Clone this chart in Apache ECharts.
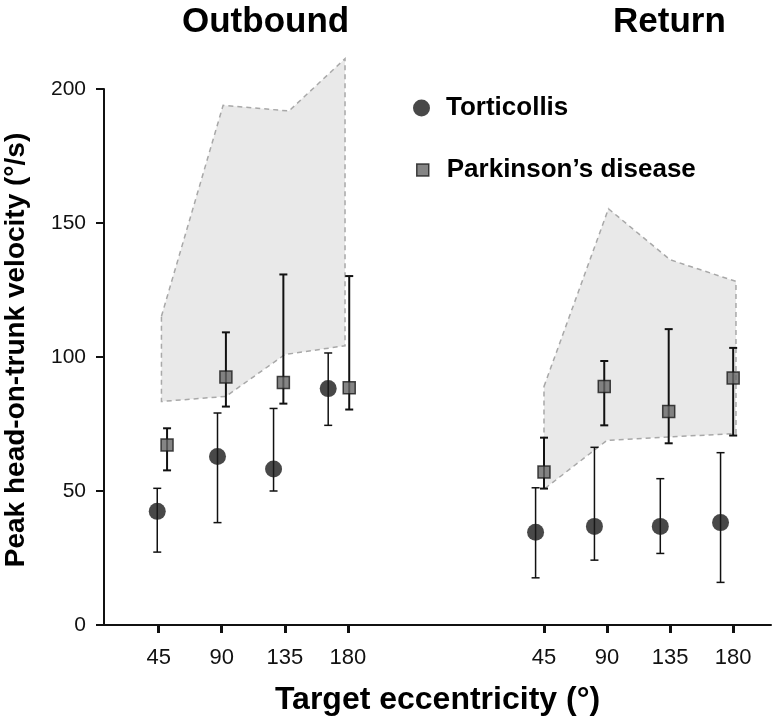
<!DOCTYPE html>
<html><head><meta charset="utf-8">
<script src="https://cdn.jsdelivr.net/npm/echarts@6/dist/echarts.min.js"></script>
<style>html,body{margin:0;padding:0;background:#fff}#c{width:774px;height:717px}</style>
</head><body><div id="c"></div>
<script>
// ---- data ----
const eccentricities = [45, 90, 135, 180];
const RETURN_OFFSET = 275;            // axis units separating the Return panel
const yTicks = [0, 50, 100, 150, 200];

// Torticollis (mean, lower / upper error bar)
const tortiOutX    = [44, 87, 127, 166];
const tortiOutMean = [42.4, 62.9, 58.2, 88.2];
const tortiOutLow  = [27.2, 38.2, 50.0, 74.5];
const tortiOutHigh = [51.0, 79.1, 80.8, 101.5];
const tortiRetX    = [39, 81, 128, 171];
const tortiRetMean = [34.6, 36.8, 36.8, 38.2];
const tortiRetLow  = [17.6, 24.2, 26.7, 15.9];
const tortiRetHigh = [51.2, 66.3, 54.6, 64.3];

// Parkinson's disease
const parkOutX    = [51, 93, 134, 181];
const parkOutMean = [67.2, 92.5, 90.5, 88.5];
const parkOutLow  = [57.7, 81.5, 82.6, 80.4];
const parkOutHigh = [73.4, 109.2, 130.8, 130.2];
const parkRetX    = [45, 88, 134, 180];
const parkRetMean = [57.1, 89.0, 79.7, 92.2];
const parkRetLow  = [50.9, 74.5, 67.8, 70.7];
const parkRetHigh = [69.9, 98.5, 110.4, 103.4];

// shaded normal range
const bandOutUpperX = [47, 91, 138, 178];
const bandOutUpper  = [115.2, 193.9, 191.8, 211.3];
const bandOutLowerX = [47, 93, 135, 178];
const bandOutLower  = [83.4, 85.3, 100.9, 104.2];
const bandRetUpperX = [45, 91, 135, 182];
const bandRetUpper  = [89.0, 155.3, 136.3, 128.2];
const bandRetLowerX = [45, 90, 135, 182];
const bandRetLower  = [50.7, 68.9, 70.2, 71.4];

const TORTI = 'Torticollis';
const PARK = 'Parkinson\u2019s disease';
const FONT = 'Liberation Sans, Arial, Helvetica, sans-serif';

// ---- build ----
function pts(xs, ys, off) { return xs.map((x, i) => [x + off, ys[i]]); }
function bars(xs, lo, hi, off) { return xs.map((x, i) => [x + off, lo[i], hi[i]]); }

const bands = [
  { ux: bandOutUpperX, u: bandOutUpper, lx: bandOutLowerX, l: bandOutLower, off: 0 },
  { ux: bandRetUpperX, u: bandRetUpper, lx: bandRetLowerX, l: bandRetLower, off: RETURN_OFFSET }
];

function errSeries(name, data, lw, cap) {
  return {
    name: name, type: 'custom', z: 3, silent: true,
    renderItem: function (params, api) {
      const x = api.value(0);
      const p1 = api.coord([x, api.value(1)]);
      const p2 = api.coord([x, api.value(2)]);
      const st = { stroke: '#111', lineWidth: lw };
      return { type: 'group', children: [
        { type: 'line', shape: { x1: p1[0], y1: p1[1], x2: p2[0], y2: p2[1] }, style: st },
        { type: 'line', shape: { x1: p1[0] - cap, y1: p1[1], x2: p1[0] + cap, y2: p1[1] }, style: st },
        { type: 'line', shape: { x1: p2[0] - cap, y1: p2[1], x2: p2[0] + cap, y2: p2[1] }, style: st }
      ]};
    },
    encode: { x: 0, y: [1, 2] },
    data: data
  };
}

const tortiStyle = { color: '#1a1a1a' };
const parkStyle = { color: '#666666', borderColor: '#1a1a1a', borderWidth: 1.5 };

const option = {
  animation: false,
  backgroundColor: '#fff',
  title: [
    { text: 'Outbound', left: 177, top: 0, textStyle: { fontFamily: FONT, fontWeight: 'bold', fontSize: 35, color: '#000' } },
    { text: 'Return', left: 608, top: 0, textStyle: { fontFamily: FONT, fontWeight: 'bold', fontSize: 35, color: '#000' } }
  ],
  legend: [
    { data: [{ name: TORTI, icon: 'circle', itemStyle: tortiStyle }], left: 408, top: 90, itemWidth: 17, itemHeight: 17, orient: 'vertical',
      textStyle: { fontFamily: FONT, fontWeight: 'bold', fontSize: 26, color: '#000', padding: [0, 0, 0, 11] } },
    { data: [{ name: PARK, icon: 'rect', itemStyle: parkStyle }], left: 411, top: 152, itemWidth: 12, itemHeight: 12, orient: 'vertical',
      textStyle: { fontFamily: FONT, fontWeight: 'bold', fontSize: 26, color: '#000', padding: [0, 0, 0, 13] } }
  ],
  grid: { left: 104, right: 3, top: 89, bottom: 92, containLabel: false, outerBoundsMode: 'none' },
  xAxis: {
    type: 'value', min: 6, max: 482,
    name: 'Target eccentricity (\u00b0)', nameLocation: 'middle', nameGap: 59,
    nameTextStyle: { fontFamily: FONT, fontWeight: 'bold', fontSize: 32, color: '#000' },
    axisLine: { show: true, lineStyle: { color: '#111', width: 2 } },
    axisTick: { show: true, length: 8, lineStyle: { color: '#111', width: 3 },
      customValues: eccentricities.concat(eccentricities.map(e => e + RETURN_OFFSET)) },
    axisLabel: { fontFamily: FONT, fontSize: 22, color: '#111', margin: 22,
      customValues: eccentricities.concat(eccentricities.map(e => e + RETURN_OFFSET)),
      formatter: v => String(v > RETURN_OFFSET ? v - RETURN_OFFSET : v) },
    splitLine: { show: false }
  },
  yAxis: {
    type: 'value', min: 0, max: 200, interval: 50,
    name: 'Peak head-on-trunk velocity (\u00b0/s)', nameLocation: 'middle', nameGap: 74, nameRotate: 90,
    nameTextStyle: { fontFamily: FONT, fontWeight: 'bold', fontSize: 28, color: '#000', padding: [0, 0, 0, 14] },
    axisLine: { show: true, lineStyle: { color: '#111', width: 2 } },
    axisTick: { show: true, length: 8, lineStyle: { color: '#111', width: 2 } },
    axisLabel: { fontFamily: FONT, fontSize: 21, color: '#111', margin: 18,
      customValues: yTicks },
    splitLine: { show: false }
  },
  series: [
    { name: TORTI, type: 'scatter', z: 4, symbol: 'circle', symbolSize: 17, itemStyle: tortiStyle,
      data: pts(tortiOutX, tortiOutMean, 0) },
    { name: TORTI, type: 'scatter', z: 4, symbol: 'circle', symbolSize: 17, itemStyle: tortiStyle,
      data: pts(tortiRetX, tortiRetMean, RETURN_OFFSET) },
    { name: PARK, type: 'scatter', z: 4, symbol: 'rect', symbolSize: 12, itemStyle: parkStyle,
      data: pts(parkOutX, parkOutMean, 0) },
    { name: PARK, type: 'scatter', z: 4, symbol: 'rect', symbolSize: 12, itemStyle: parkStyle,
      data: pts(parkRetX, parkRetMean, RETURN_OFFSET) },
    {
      type: 'custom', name: 'band', z: 1, silent: true,
      renderItem: function (params, api) {
        const b = bands[params.dataIndex];
        const up = b.ux.map((x, i) => api.coord([x + b.off, b.u[i]]));
        const lo = b.lx.map((x, i) => api.coord([x + b.off, b.l[i]])).reverse();
        return { type: 'polygon', shape: { points: up.concat(lo) },
          style: { fill: '#e9e9e9', stroke: '#a8a8a8', lineWidth: 1.5, lineDash: [5, 4] } };
      },
      data: bands.map((b, i) => [i])
    },
    errSeries(TORTI, bars(tortiOutX, tortiOutLow, tortiOutHigh, 0), 1.5, 4),
    errSeries(TORTI, bars(tortiRetX, tortiRetLow, tortiRetHigh, RETURN_OFFSET), 1.5, 4),
    errSeries(PARK, bars(parkOutX, parkOutLow, parkOutHigh, 0), 2, 4),
    errSeries(PARK, bars(parkRetX, parkRetLow, parkRetHigh, RETURN_OFFSET), 2, 4)
  ]
};

const chart = echarts.init(document.getElementById('c'), null, { renderer: 'canvas' });
chart.setOption(option);
</script>
</body></html>
